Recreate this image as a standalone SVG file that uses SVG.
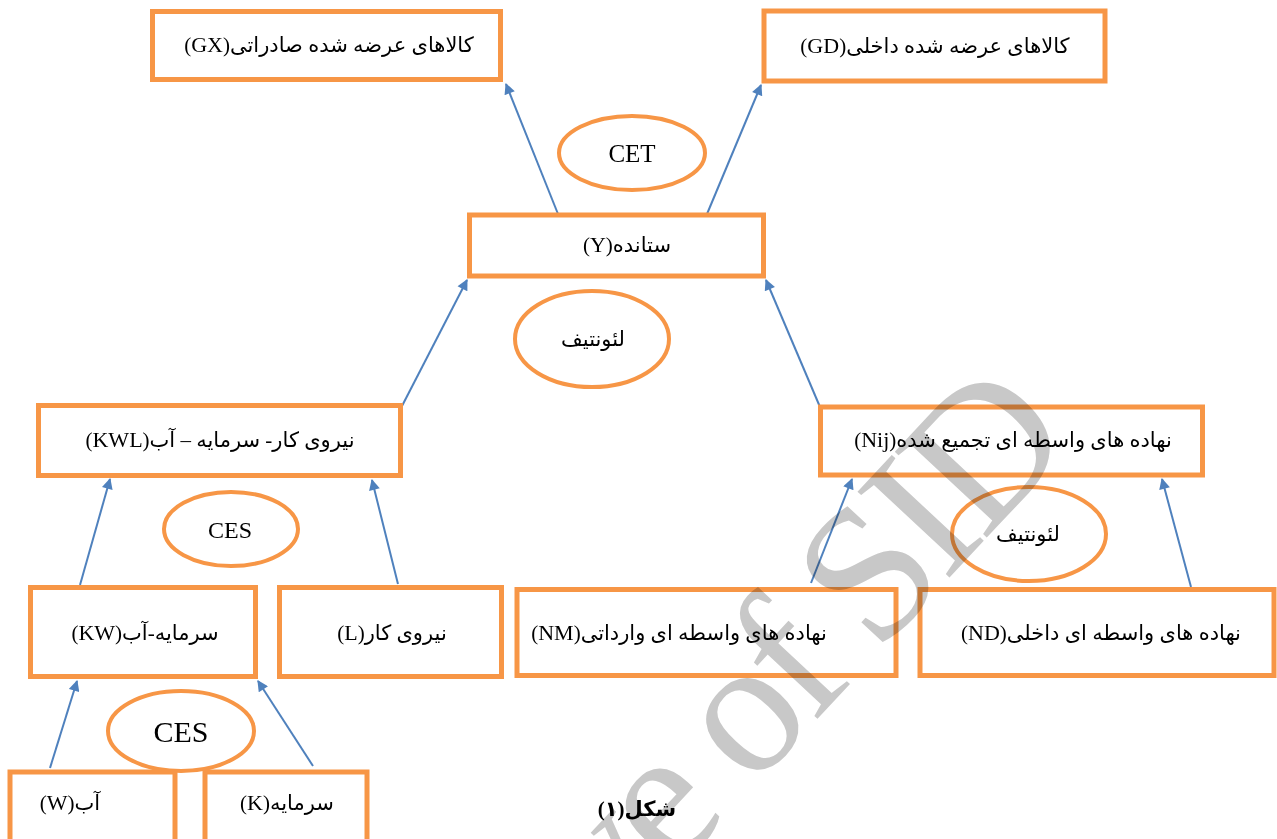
<svg xmlns="http://www.w3.org/2000/svg" width="1277" height="839" viewBox="0 0 1277 839">
<defs>
<style>
.box{fill:#ffffff;stroke:#f79646;stroke-width:5}
.ell{fill:#ffffff;stroke:#f79646;stroke-width:4}
.lbl{font-family:"Liberation Serif","DejaVu Sans",serif;font-size:21px;fill:#000;text-anchor:middle}
.fa{direction:rtl;unicode-bidi:embed}
.la{font-size:22px}
.lat{font-family:"Liberation Serif",serif;fill:#000;text-anchor:middle}
.con line{stroke:#4f81bd;stroke-width:2;marker-end:url(#ah)}
.wm{font-family:"Liberation Serif",serif;font-size:192px;letter-spacing:-8px;fill:#c8c8c8;mix-blend-mode:multiply}
</style>
<marker id="ah" viewBox="0 0 10 10" refX="9" refY="5" markerWidth="6" markerHeight="5.5" orient="auto" markerUnits="strokeWidth">
<path d="M0,0 L10,5 L0,10 z" fill="#4f81bd"/>
</marker>
</defs>
<rect width="1277" height="839" fill="#ffffff"/>

<g id="connectors" class="con">
<line x1="558" y1="214" x2="506" y2="84"/>
<line x1="707" y1="214" x2="761" y2="85"/>
<line x1="402" y1="406" x2="467" y2="280"/>
<line x1="820" y1="407" x2="766" y2="280"/>
<line x1="80" y1="585" x2="110" y2="479"/>
<line x1="398" y1="584" x2="372" y2="480"/>
<line x1="811" y1="583" x2="852" y2="479"/>
<line x1="1191" y1="587" x2="1162" y2="479"/>
<line x1="50" y1="768" x2="77" y2="681"/>
<line x1="313" y1="766" x2="258" y2="681"/>
</g>

<g id="node-gx"><rect class="box" x="152.5" y="11.5" width="348" height="68"/><text class="lbl fa" x="329" y="52">کالاهای عرضه شده صادراتی(<tspan class="la">GX</tspan>)</text></g>
<g id="node-gd"><rect class="box" x="764" y="11" width="341" height="70"/><text class="lbl fa" x="935" y="53">کالاهای عرضه شده داخلی(<tspan class="la">GD</tspan>)</text></g>
<g id="node-cet"><ellipse class="ell" cx="632" cy="153" rx="73" ry="37"/><text class="lat" x="632" y="162" font-size="25">CET</text></g>
<g id="node-y"><rect class="box" x="469.5" y="215" width="294" height="61"/><text class="lbl fa" x="627" y="252">ستانده(<tspan class="la">Y</tspan>)</text></g>
<g id="node-leontief1"><ellipse class="ell" cx="592" cy="339" rx="77" ry="48"/><text class="lbl fa" x="593" y="346" font-size="18">لئونتیف</text></g>
<g id="node-kwl"><rect class="box" x="38.5" y="405.5" width="362" height="70"/><text class="lbl fa" x="220" y="447">نیروی کار- سرمایه – آب(<tspan class="la">KWL</tspan>)</text></g>
<g id="node-nij"><rect class="box" x="820.5" y="407" width="382" height="68"/><text class="lbl fa" x="1013" y="447">نهاده های واسطه ای تجمیع شده(<tspan class="la">Nij</tspan>)</text></g>
<g id="node-ces1"><ellipse class="ell" cx="231" cy="529" rx="67" ry="37"/><text class="lat" x="230" y="538" font-size="24">CES</text></g>
<g id="node-leontief2"><ellipse class="ell" cx="1029" cy="534" rx="77" ry="47"/><text class="lbl fa" x="1028" y="541" font-size="17">لئونتیف</text></g>
<g id="node-kw"><rect class="box" x="30.5" y="587.5" width="225" height="89"/><text class="lbl fa" x="145" y="640">سرمایه-آب(<tspan class="la">KW</tspan>)</text></g>
<g id="node-l"><rect class="box" x="279.5" y="587.5" width="222" height="89"/><text class="lbl fa" x="392" y="640">نیروی کار(<tspan class="la">L</tspan>)</text></g>
<g id="node-nm"><rect class="box" x="517" y="589.5" width="379" height="86"/><text class="lbl fa" x="679" y="640">نهاده های واسطه ای وارداتی(<tspan class="la">NM</tspan>)</text></g>
<g id="node-nd"><rect class="box" x="920" y="589.5" width="354" height="86"/><text class="lbl fa" x="1101" y="640">نهاده های واسطه ای داخلی(<tspan class="la">ND</tspan>)</text></g>
<g id="node-ces2"><ellipse class="ell" cx="181" cy="731" rx="73" ry="40"/><text class="lat" x="181" y="742" font-size="30">CES</text></g>
<g id="node-w"><rect class="box" x="10" y="772" width="165" height="70"/><text class="lbl fa" x="70" y="810">آب(<tspan class="la">W</tspan>)</text></g>
<g id="node-k"><rect class="box" x="205" y="772" width="162" height="70"/><text class="lbl fa" x="287" y="810">سرمایه(<tspan class="la">K</tspan>)</text></g>

<text id="caption" class="lbl fa" x="637" y="816" font-weight="bold" font-size="23">شکل(۱)</text>

<g id="watermark">
<text class="wm" text-anchor="end" transform="translate(1072,446) rotate(-47)">Archive of SID</text>
</g>
</svg>
